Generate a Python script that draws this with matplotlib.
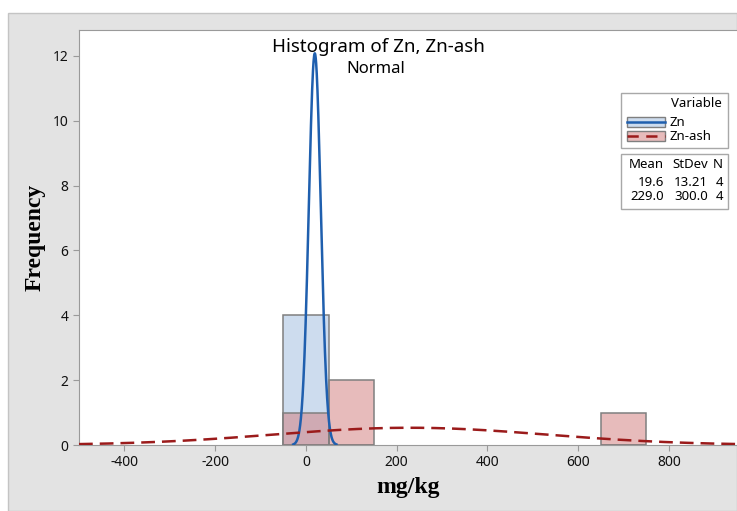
import matplotlib.pyplot as plt
import numpy as np
from matplotlib.patches import Rectangle
from matplotlib.lines import Line2D

plt.rcParams['axes.unicode_minus'] = False

# histogram bins (width 100) and counts per variable
bin_centers = [0, 100, 700]
bin_width = 100
zn_counts = [4, 0, 0]
ash_counts = [1, 2, 1]

# fitted normal parameters
names = ['Zn', 'Zn-ash']
means = [19.6, 229.0]
stdevs = [13.21, 300.0]
ns = [4, 4]

x_ticks = [-400, -200, 0, 200, 400, 600, 800]
y_ticks = [0, 2, 4, 6, 8, 10, 12]

W, H = 737, 511
fig = plt.figure(figsize=(W / 100, H / 100), dpi=100)
fig.patch.set_facecolor('white')

def fx(px):
    return px / W

def fy(py):
    return 1 - py / H

sans = ['Noto Sans', 'DejaVu Sans']

# grey panel behind the plot
fig.patches.append(Rectangle((fx(8), 0), 1 - fx(8), fy(13), transform=fig.transFigure,
                             facecolor='#e3e3e3', edgecolor='#c4c4c4', lw=1, zorder=-5))

ax = fig.add_axes([fx(79), fy(445), fx(737) - fx(79), fy(30) - fy(445)])
ax.set_zorder(1)
ax.set_facecolor('white')

ax.bar(bin_centers, zn_counts, width=bin_width, color='#cddcee', edgecolor='#7f7f7f', lw=1.1, zorder=2)
ax.bar(bin_centers, ash_counts, width=bin_width, color=(209/255, 121/255, 121/255, 0.5),
       edgecolor='#7f7f7f', lw=1.1, zorder=3)

def normal_curve(x, m, s, n):
    return n * bin_width / (s * np.sqrt(2 * np.pi)) * np.exp(-0.5 * ((x - m) / s) ** 2)

xz = np.linspace(means[0] - 3.6 * stdevs[0], means[0] + 3.6 * stdevs[0], 300)
ax.plot(xz, normal_curve(xz, means[0], stdevs[0], ns[0]), color='#1f5fae', lw=1.8, zorder=5)
xa = np.linspace(-500, 950, 400)
ax.plot(xa, normal_curve(xa, means[1], stdevs[1], ns[1]), color='#9b1b1b', lw=1.8,
        dashes=(5.5, 2.8), zorder=5)

ax.set_xlim(-500, 950)
ax.set_ylim(0, 12.8)
ax.set_xticks(x_ticks)
ax.set_yticks(y_ticks)
for side in ['left', 'bottom', 'top']:
    ax.spines[side].set_color('#9a9a9a')
ax.spines['right'].set_visible(False)
ax.tick_params(length=4, color='#9a9a9a', labelsize=10, labelcolor='#111111')
for lab in ax.get_xticklabels() + ax.get_yticklabels():
    lab.set_family(sans)
    lab.set_fontweight(600)

fig.text(fx(35), fy(237), 'Frequency', rotation=90, ha='center', va='center',
         family='Liberation Serif', fontweight='bold', fontsize=17)
fig.text(fx(408), fy(487), 'mg/kg', ha='center', va='center',
         family='Liberation Serif', fontweight='bold', fontsize=17)

fig.text(fx(378), fy(47), 'Histogram of Zn, Zn-ash', ha='center', va='center',
         family=sans, fontweight=500, fontsize=13.5, zorder=7)
fig.text(fx(376), fy(69), 'Normal', ha='center', va='center',
         family=sans, fontweight=500, fontsize=12, zorder=7)

# legend boxes
lx0, lx1 = 621, 728
fig.patches.append(Rectangle((fx(lx0), fy(148)), fx(lx1) - fx(lx0), fy(93) - fy(148),
                             transform=fig.transFigure, facecolor='white', edgecolor='#a8a8a8', lw=1, zorder=6))
fig.patches.append(Rectangle((fx(lx0), fy(209)), fx(lx1) - fx(lx0), fy(154) - fy(209),
                             transform=fig.transFigure, facecolor='white', edgecolor='#a8a8a8', lw=1, zorder=6))

lfont = dict(family=sans, fontweight=500, fontsize=9.5, zorder=7)
fig.text(fx(722), fy(103), 'Variable', ha='right', va='center', **lfont)
swatch_fill = ['#cddcee', (209/255, 121/255, 121/255, 0.5)]
swatch_line = [('#1f5fae', (None, None)), ('#9b1b1b', (4.5, 3))]
for i, name in enumerate(names):
    yc = 122 + i * 14
    fig.patches.append(Rectangle((fx(627), fy(yc + 5)), fx(665) - fx(627), fy(yc - 5) - fy(yc + 5),
                                 transform=fig.transFigure, facecolor=swatch_fill[i],
                                 edgecolor='#7f7f7f', lw=1, zorder=7))
    c, dash = swatch_line[i]
    ln = Line2D([fx(627), fx(665)], [fy(yc), fy(yc)], transform=fig.transFigure,
                color=c, lw=1.8, zorder=8)
    if dash[0] is not None:
        ln.set_dashes(dash)
    fig.lines.append(ln)
    fig.text(fx(670), fy(yc), name, ha='left', va='center', **lfont)

fig.text(fx(664), fy(165), 'Mean', ha='right', va='center', **lfont)
fig.text(fx(708), fy(165), 'StDev', ha='right', va='center', **lfont)
fig.text(fx(723), fy(165), 'N', ha='right', va='center', **lfont)
for i in range(len(names)):
    yc = 182 + i * 15
    fig.text(fx(664), fy(yc), f'{means[i]:.1f}', ha='right', va='center', **lfont)
    sd_txt = f'{stdevs[i]:.2f}' if stdevs[i] < 100 else f'{stdevs[i]:.1f}'
    fig.text(fx(708), fy(yc), sd_txt, ha='right', va='center', **lfont)
    fig.text(fx(723), fy(yc), str(ns[i]), ha='right', va='center', **lfont)

plt.savefig('out.png', dpi=100)
